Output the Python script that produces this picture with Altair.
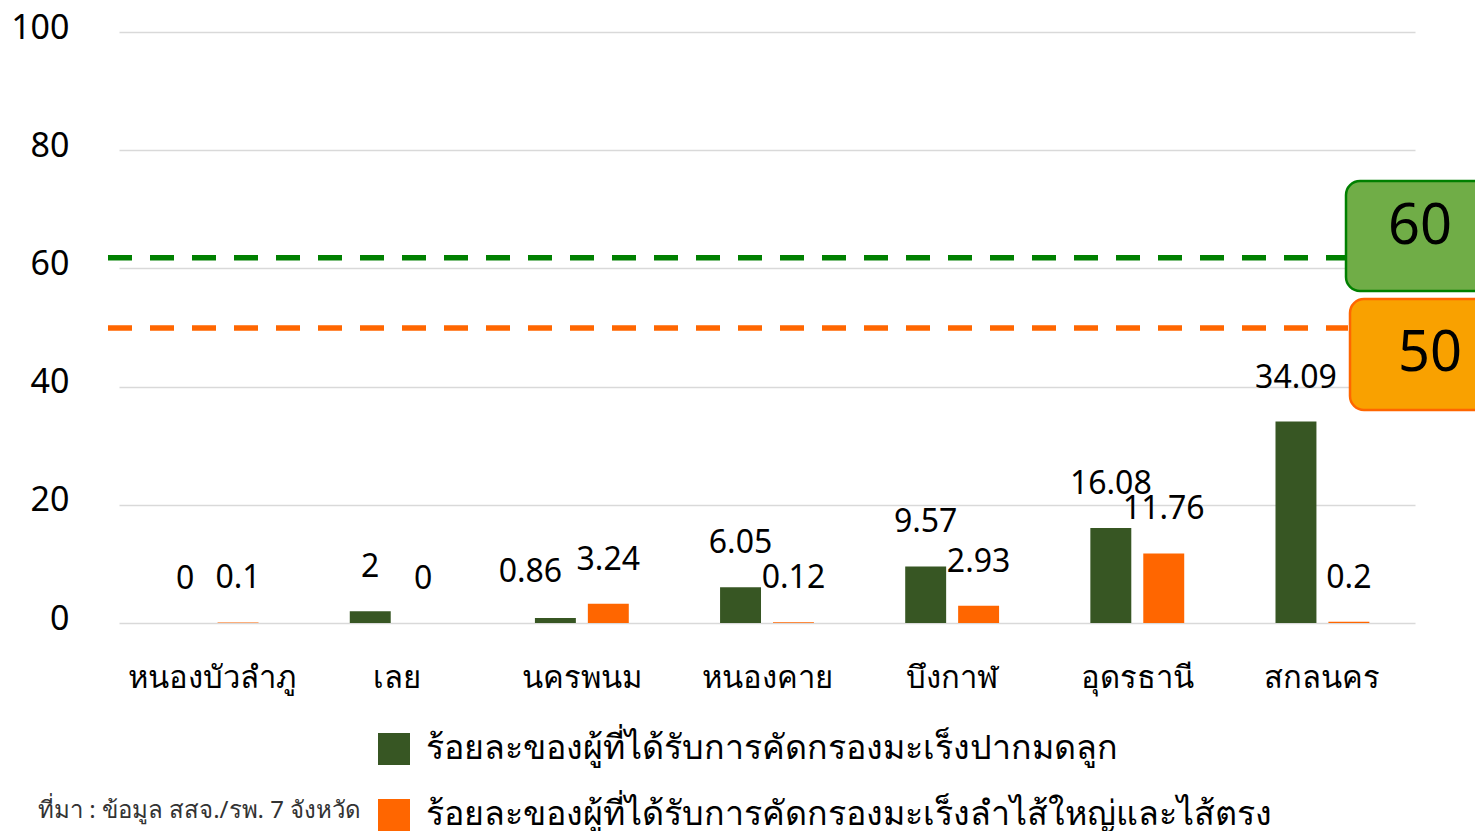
import altair as alt
import pandas as pd

# ---- data ----
provinces = ["หนองบัวลำภู", "เลย", "นครพนม", "หนองคาย", "บึงกาฬ", "อุดรธานี", "สกลนคร"]
cervical = [0, 2, 0.86, 6.05, 9.57, 16.08, 34.09]
colorectal = [0.1, 0, 3.24, 0.12, 2.93, 11.76, 0.2]
series_names = [
    "ร้อยละของผู้ที่ได้รับการคัดกรองมะเร็งปากมดลูก",
    "ร้อยละของผู้ที่ได้รับการคัดกรองมะเร็งลำไส้ใหญ่และไส้ตรง",
]
series_colors = ["#375623", "#FF6600"]
target_labels = ["60", "50"]
target_levels = [61.8, 49.9]
target_line_colors = ["#008000", "#FF6600"]
y_ticks = [0, 20, 40, 60, 80, 100]
source_note = "ที่มา : ข้อมูล สสจ./รพ. 7 จังหวัด"

FONT = "Noto Sans"

rows = []
for name, vals in zip(series_names, [cervical, colorectal]):
    for p, v in zip(provinces, vals):
        rows.append({"province": p, "series": name, "value": v, "label": f"{v:g}"})
df = pd.DataFrame(rows)

thr_df = pd.DataFrame({"level": target_levels, "lbl": target_labels, "col": target_line_colors})

x_enc = alt.X(
    "province:N",
    sort=provinces,
    scale=alt.Scale(paddingInner=0.493, paddingOuter=0.2465),
    axis=alt.Axis(
        title=None, labelAngle=0, labelFontSize=31, labelPadding=40, ticks=False,
        domain=False, labelColor="black", labelFont=FONT, grid=False,
    ),
)
xo_enc = alt.XOffset("series:N", sort=series_names,
                     scale=alt.Scale(paddingInner=0.2264, paddingOuter=0))
y_enc = alt.Y(
    "value:Q",
    scale=alt.Scale(domain=[0, 100]),
    axis=alt.Axis(
        title=None, values=y_ticks, ticks=False, domain=False, labelFontSize=34,
        labelPadding=50, labelOffset=-4, labelColor="black", labelFont=FONT, grid=True,
        gridColor="#d9d9d9", gridWidth=1.5,
    ),
)

bars = alt.Chart(df).mark_bar().encode(
    x=x_enc,
    xOffset=xo_enc,
    y=y_enc,
    color=alt.Color(
        "series:N",
        sort=series_names,
        scale=alt.Scale(domain=series_names, range=series_colors),
        legend=alt.Legend(
            orient="none", legendX=258, legendY=700, title=None, symbolType="square",
            symbolSize=1024, labelFontSize=34, labelLimit=1400, rowPadding=32,
            symbolStrokeWidth=0, labelOffset=15, direction="vertical",
            labelFont=FONT, labelColor="black", symbolOpacity=1,
        ),
    ),
)

label_base = alt.Chart(df).encode(
    x=alt.X("province:N", sort=provinces),
    xOffset=alt.XOffset("series:N", sort=series_names),
    y=alt.Y("value:Q"),
    text="label:N",
)
text_style = dict(baseline="middle", align="center", fontSize=32, font=FONT, color="black")

# Excel nudged the crowded "0.86" label to the left of its bar
crowded = (alt.datum.province == provinces[2]) & (alt.datum.series == series_names[0])
labels = label_base.mark_text(dy=-44, **text_style).transform_filter(~crowded)
labels_nudged = label_base.mark_text(dy=-46, dx=-25, **text_style).transform_filter(crowded)

rules = alt.Chart(thr_df).mark_rule(strokeDash=[24, 18], strokeWidth=5.5).encode(
    y=alt.Y("level:Q"),
    x=alt.value(-11),
    x2=alt.value(1229),
    stroke=alt.Stroke("col:N", scale=None, legend=None),
)


def box(text, x0, y0, y1, fill, stroke, tx, ty):
    d = pd.DataFrame({"t": [text]})
    r = alt.Chart(d).mark_rect(
        fill=fill, stroke=stroke, strokeWidth=2.5, cornerRadius=14
    ).encode(x=alt.value(x0), x2=alt.value(x0 + 200), y=alt.value(y0), y2=alt.value(y1))
    t = alt.Chart(d).mark_text(
        fontSize=56, font=FONT, color="black", align="center", baseline="middle"
    ).encode(text="t:N", x=alt.value(tx), y=alt.value(ty))
    return r + t


box_green = box(target_labels[0], 1227, 149, 259, "#70AD47", "#008000", 1301, 195)
box_orange = box(target_labels[1], 1231, 267, 378, "#F9A100", "#FF6600", 1311, 322)

note = alt.Chart(pd.DataFrame({"t": [source_note]})).mark_text(
    fontSize=24, font=FONT, color="#333333", align="left", baseline="middle"
).encode(text="t:N", x=alt.value(-81), y=alt.value(779))

chart = alt.layer(bars, labels, labels_nudged, rules, box_green, box_orange, note).properties(
    width=1296,
    height=591,
    autosize=alt.AutoSizeParams(type="none"),
    padding={"left": 111, "top": 24, "right": 60, "bottom": 208},
).configure(font=FONT).configure_view(stroke=None)

chart.save("out.html", embed_options={"renderer": "svg", "actions": False})
